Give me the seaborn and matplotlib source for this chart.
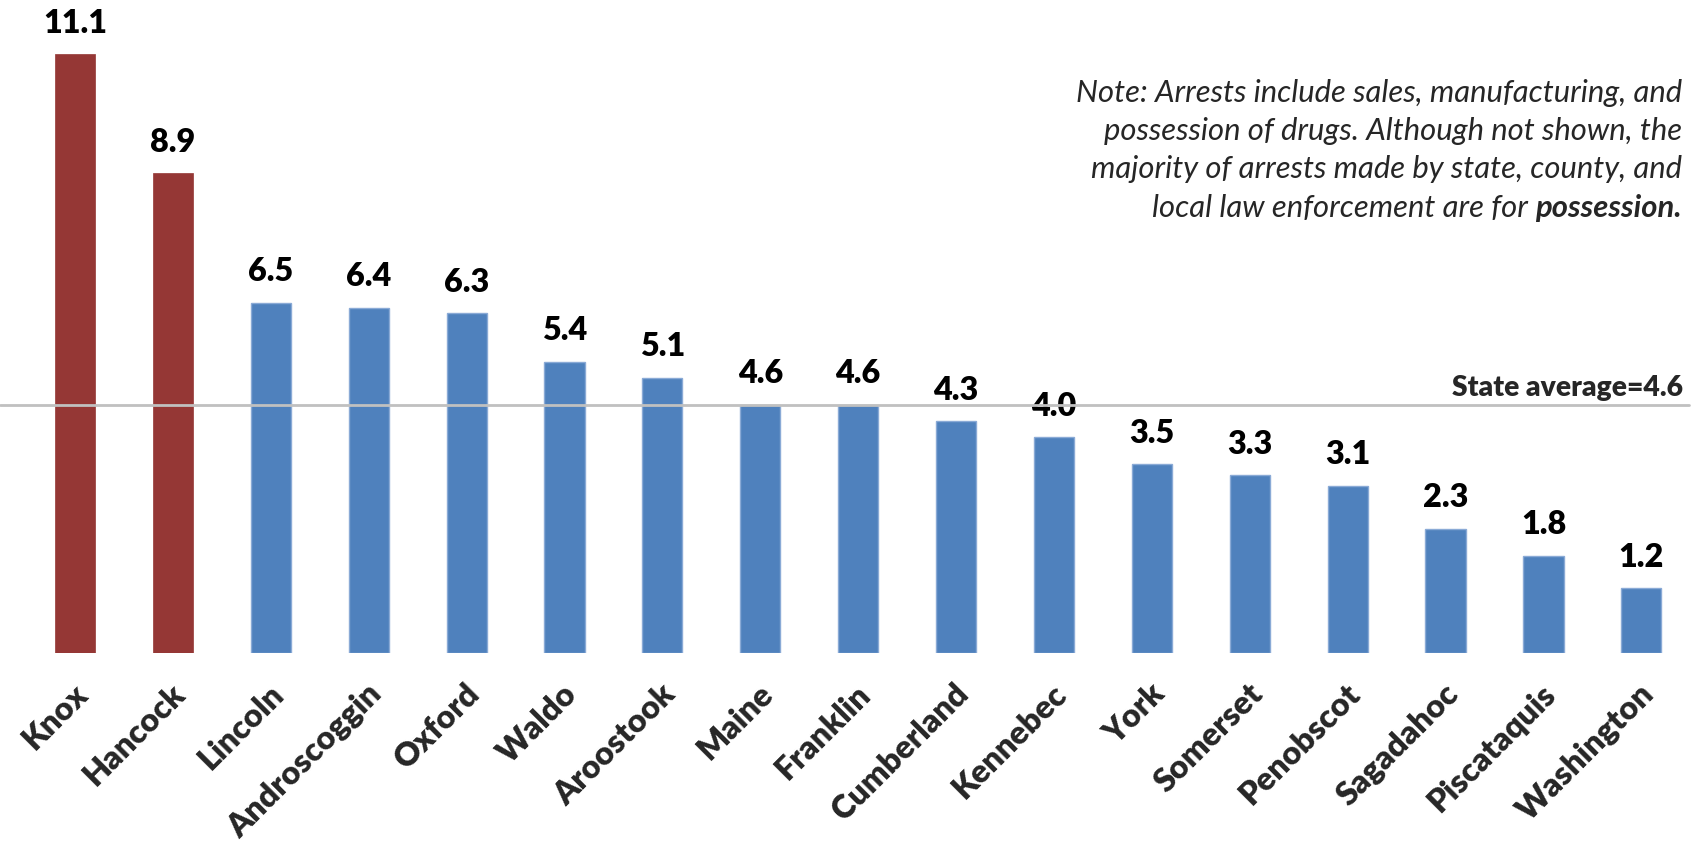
import matplotlib
matplotlib.use("Agg")
import matplotlib.pyplot as plt
import matplotlib.transforms as mtransforms
import seaborn as sns
import pandas as pd

# Drug arrests per 1,000 residents by county
counties = ["Knox", "Hancock", "Lincoln", "Androscoggin", "Oxford", "Waldo",
            "Aroostook", "Maine", "Franklin", "Cumberland", "Kennebec", "York",
            "Somerset", "Penobscot", "Sagadahoc", "Piscataquis", "Washington"]
rates = [11.1, 8.9, 6.5, 6.4, 6.3, 5.4, 5.1, 4.6, 4.6, 4.3, 4.0, 3.5,
         3.3, 3.1, 2.3, 1.8, 1.2]
highlighted = ["Knox", "Hancock"]
state_average = 4.6

note_lines = [
    "Note: Arrests include sales, manufacturing, and",
    "possession of drugs. Although not shown, the",
    "majority of arrests made by state, county, and",
    "local law enforcement are for ",
]
note_bold = "possession."

RED = "#953735"
BLUE = "#4F81BD"
HEAVY = "heavy"

sns.set_style("white")
plt.rcParams["font.family"] = ["Lato", "DejaVu Sans"]

W, H = 1700, 849
fig = plt.figure(figsize=(W / 100, H / 100), dpi=100)
renderer = fig.canvas.get_renderer()


def fit_size(text, width_px, **kw):
    """Font size (pt) at which `text` spans width_px pixels."""
    t = fig.text(0, 0, text, fontsize=20, **kw)
    w = t.get_window_extent(renderer).width
    t.remove()
    return 20 * width_px / w


value_fs = fit_size("11.1", 64, fontweight=HEAVY)
tick_fs = fit_size("Androscoggin", 203, fontweight=HEAVY)
avg_fs = fit_size("State average=4.6", 230, fontweight=HEAVY)
note_fs = fit_size(note_lines[0], 607, style="italic")

df = pd.DataFrame({"county": counties, "rate": rates})
palette = {c: (RED if c in highlighted else BLUE) for c in counties}

ax = fig.add_axes([0, 196 / H, 1, 653 / H])
sns.barplot(data=df, x="county", y="rate", hue="county", palette=palette,
            legend=False, width=0.41, saturation=1, ax=ax, zorder=2)
for patch, c in zip(ax.patches, counties):
    if c in highlighted:
        patch.set_edgecolor(RED)
        patch.set_linewidth(0.5)
    else:
        patch.set_edgecolor("#8AAAD6")
        patch.set_linewidth(1.0)

ax.set_xlim(-0.766, 16.599)
ax.set_ylim(0, 12.11)
for s in ax.spines.values():
    s.set_visible(False)
ax.set_yticks([])
ax.set_xlabel("")
ax.set_ylabel("")

# value labels above bars
for i, v in enumerate(rates):
    ax.annotate(f"{v:.1f}", xy=(i, v), xytext=(0, 15.5), textcoords="offset points",
                ha="center", va="baseline", fontsize=value_fs, fontweight=HEAVY,
                color="black", zorder=3)

# state average reference line
ax.axhline(state_average, xmin=0, xmax=1689 / W, color="#C0C0C0", lw=2, zorder=4)
avg_tr = ax.get_yaxis_transform() + mtransforms.ScaledTranslation(
    0, 9 / 100, fig.dpi_scale_trans)
ax.text(1683 / W, state_average, f"State average={state_average}",
        transform=avg_tr, ha="right", va="baseline",
        fontsize=avg_fs, fontweight=HEAVY)

# rotated county labels
ax.set_xticks(range(len(counties)))
ax.set_xticklabels(counties, rotation=45, ha="right", va="center",
                   rotation_mode="anchor", fontsize=tick_fs, fontweight=HEAVY)
ax.tick_params(axis="x", length=0, pad=26)
shift = mtransforms.ScaledTranslation(8 / 100, 0, fig.dpi_scale_trans)
for lbl in ax.get_xticklabels():
    lbl.set_transform(lbl.get_transform() + shift)

# explanatory note, right aligned
right_x = 1682 / W
baselines = [102, 140, 178, 217]
for line, yb in zip(note_lines[:-1], baselines[:-1]):
    fig.text(right_x, 1 - yb / H, line, ha="right", va="baseline",
             fontsize=note_fs, style="italic")
bold_txt = fig.text(right_x, 1 - baselines[-1] / H, note_bold, ha="right",
                    va="baseline", fontsize=note_fs, style="italic", fontweight="bold")
bb = bold_txt.get_window_extent(renderer)
fig.text(bb.x0 / W, 1 - baselines[-1] / H, note_lines[-1],
         ha="right", va="baseline", fontsize=note_fs, style="italic")

fig.savefig("out.png", dpi=100)
